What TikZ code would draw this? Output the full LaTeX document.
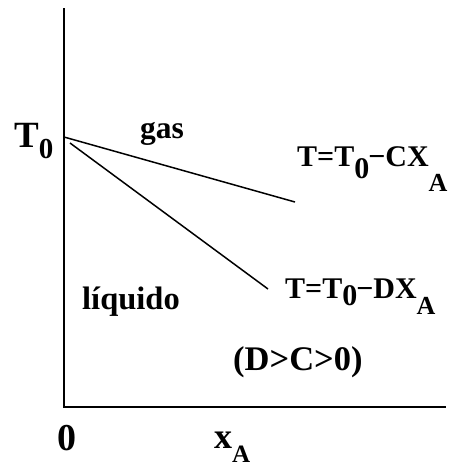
\documentclass[tikz,border=0pt]{standalone}
\usepackage{fontspec}
\setmainfont{Liberation Serif}
\begin{document}
\begin{tikzpicture}[x=1pt,y=-1pt,
  lbl/.style={anchor=base west,inner sep=0pt,font=\bfseries},
  axis/.style={line width=2pt},
  curve/.style={line width=1.5pt}]
\useasboundingbox (0,0) rectangle (449,467);
\coordinate (ytop) at (64,8);
\coordinate (orig) at (64,407);
\coordinate (xend) at (446,407);
\coordinate (t0) at (64,137);
\coordinate (t0b) at (70,143);
\coordinate (cend) at (295,202);
\coordinate (dend) at (268,289);
\draw[axis] (ytop) -- (orig) -- (xend);
\draw[curve] (t0) -- (cend);
\draw[curve] (t0b) -- (dend);
\node[lbl] (lt0) at (14,147) {\fontsize{37}{37}\selectfont T\raisebox{-11pt}{\fontsize{29}{29}\selectfont 0}};
\node[lbl] (lgas) at (140,138) {\fontsize{31.5}{31.5}\selectfont gas};
\node[lbl] (leqc) at (297,166) {\fontsize{30}{30}\selectfont T=T\raisebox{-12pt}{0}\kern-1pt−CX\raisebox{-25pt}{\fontsize{26}{26}\selectfont A}};
\node[lbl] (leqd) at (285,298) {\fontsize{30}{30}\selectfont T=T\raisebox{-7pt}{0}\kern-1pt−DX\raisebox{-16pt}{\fontsize{26}{26}\selectfont A}};
\node[lbl] (lliq) at (82,309) {\fontsize{32.5}{32.5}\selectfont líquido};
\node[lbl] (lcond) at (233,370) {\fontsize{34.5}{34.5}\selectfont (D>C>0)};
\node[lbl] (lzero) at (57,450) {\fontsize{38}{38}\selectfont 0};
\node[lbl] (lxa) at (214,448) {\fontsize{36}{36}\selectfont x\raisebox{-14pt}{\fontsize{25}{25}\selectfont A}};
\end{tikzpicture}
\end{document}
